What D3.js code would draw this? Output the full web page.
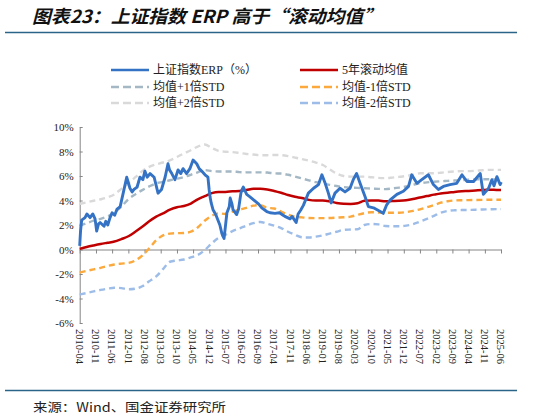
<!DOCTYPE html>
<html>
<head>
<meta charset="utf-8">
<script src="https://cdn.jsdelivr.net/npm/d3@7"></script>
<style>
  body { margin: 0; background: #fff; }
  svg { display: block; }
</style>
</head>
<body>
<svg id="chart" width="559" height="420"></svg>
<script>
// ERP of the Shanghai Composite (%)
const erpDates = [
  "2010-04-01","2010-04-12","2010-04-27","2010-06-10","2010-07-05","2010-08-15","2010-09-20","2010-10-20",
  "2010-11-10","2010-12-05","2010-12-25","2011-02-15","2011-03-10","2011-04-05","2011-05-05","2011-06-01",
  "2011-07-05","2011-08-05","2011-09-15","2011-10-25","2011-12-10","2012-01-22","2012-02-20","2012-03-15",
  "2012-04-25","2012-06-01","2012-07-10","2012-08-05","2012-09-05","2012-10-12","2012-12-05","2013-01-25",
  "2013-03-12","2013-04-28","2013-06-05","2013-06-25","2013-07-25","2013-09-05","2013-10-15","2013-11-20",
  "2013-12-20","2014-02-05","2014-03-20","2014-05-01","2014-06-18","2014-07-20","2014-08-22","2014-10-05",
  "2014-11-12","2014-11-28","2014-12-10","2014-12-25","2015-01-18","2015-02-10","2015-03-05","2015-04-18",
  "2015-05-15","2015-06-12","2015-06-25","2015-07-20","2015-08-20","2015-09-01","2015-09-25","2015-10-08",
  "2015-11-25","2015-12-20","2016-01-20","2016-02-05","2016-02-20","2016-04-05","2016-05-18","2016-07-25",
  "2016-09-10","2016-10-20","2016-12-25","2017-02-05","2017-04-12","2017-06-10","2017-07-28","2017-08-20",
  "2017-10-28","2017-11-22","2018-01-15","2018-02-10","2018-03-15","2018-04-20","2018-06-25","2018-09-01",
  "2018-11-05","2018-12-20","2019-02-01","2019-03-15","2019-04-20","2019-06-10","2019-08-15","2019-10-20",
  "2019-12-25","2020-02-05","2020-03-20","2020-05-05","2020-07-10","2020-08-22","2020-10-28","2021-01-25",
  "2021-03-05","2021-04-20","2021-06-05","2021-09-01","2021-11-25","2022-02-01","2022-03-15","2022-05-22",
  "2022-07-25","2022-10-20","2022-12-25","2023-03-01","2023-05-05","2023-08-01","2023-10-28","2024-01-05",
  "2024-03-10","2024-06-05","2024-09-01","2024-10-12","2024-12-20","2025-02-01","2025-03-01","2025-04-08",
  "2025-05-20","2025-06-05"
];
const erpValues = [
  0.3, 1.5, 2.4, 2.6, 2.9, 2.6, 2.9, 2.5,
  1.5, 2.1, 2.2, 1.9, 2.3, 2.0, 2.6, 3.0,
  2.8, 3.3, 3.5, 4.6, 5.9, 5.0, 4.7, 4.9,
  5.1, 5.9, 5.7, 6.4, 5.9, 6.2, 5.9, 4.6,
  4.9, 5.9, 7.0, 6.5, 6.2, 5.7, 6.5, 6.2,
  6.6, 6.2, 6.6, 7.3, 7.0, 6.6, 6.4, 6.1,
  5.9, 4.9, 4.3, 3.8, 3.25, 3.0, 2.7, 2.0,
  1.3, 0.9, 1.6, 3.0, 3.5, 4.2, 3.7, 3.25,
  2.85, 3.3, 4.6, 4.9, 5.1, 4.5, 4.3, 3.95,
  3.7, 3.4, 3.1, 3.0, 2.95, 3.0, 2.8, 2.7,
  2.5, 2.7, 2.2, 2.9, 3.2, 3.6, 4.6, 5.0,
  5.3, 6.1, 5.4, 4.6, 3.8, 4.6, 5.0, 4.7,
  5.0, 5.7, 6.2, 5.4, 4.3, 3.5, 3.4, 3.1,
  2.95, 3.65, 4.05, 4.5, 4.75, 5.15, 6.1, 5.4,
  5.7, 6.1, 5.3, 4.9, 5.15, 5.3, 5.4, 6.1,
  5.55, 5.55, 6.2, 4.5, 5.0, 5.7, 5.2, 5.95,
  5.3, 5.5
];

// rolling mean and std bands, quarterly readings
const bandDates = [
  "2010-04","2010-07","2010-10","2011-01","2011-04","2011-07","2011-10","2012-01","2012-04","2012-07","2012-10",
  "2013-01","2013-04","2013-07","2013-10","2014-01","2014-04","2014-07","2014-10","2015-01","2015-04","2015-07",
  "2015-10","2016-01","2016-04","2016-07","2016-10","2017-01","2017-04","2017-07","2017-10","2018-01","2018-04",
  "2018-07","2018-10","2019-01","2019-04","2019-07","2019-10","2020-01","2020-04","2020-07","2020-10","2021-01",
  "2021-04","2021-07","2021-10","2022-01","2022-04","2022-07","2022-10","2023-01","2023-04","2023-07","2023-10",
  "2024-01","2024-04","2024-07","2024-10","2025-01","2025-04","2025-06"
];
const meanValues = [
  0.05, 0.2, 0.33, 0.45, 0.55, 0.65, 0.85, 1.08, 1.45, 1.85, 2.3,
  2.68, 2.95, 3.25, 3.45, 3.55, 3.75, 4.1, 4.35, 4.6, 4.7, 4.7,
  4.75, 4.78, 4.85, 4.95, 4.95, 4.9, 4.78, 4.63, 4.45, 4.3, 4.2,
  4.05, 4.0, 4.0, 3.93, 3.8, 3.73, 3.72, 3.78, 3.98, 4.0, 4.0,
  3.93, 3.95, 3.97, 4.02, 4.12, 4.25, 4.36, 4.48, 4.58, 4.63, 4.7,
  4.75, 4.78, 4.82, 4.86, 4.88, 4.86, 4.85
];
const plus1Values = [
  1.95, 2.15, 2.35, 2.5, 2.7, 3.0, 3.5, 4.1, 4.5, 4.85, 5.15,
  5.4, 5.52, 5.65, 5.78, 5.92, 6.1, 6.3, 6.48, 6.4, 6.37, 6.37,
  6.37, 6.32, 6.3, 6.3, 6.3, 6.28, 6.22, 6.2, 6.1, 5.95, 5.8,
  5.65, 5.5, 5.4, 5.28, 5.18, 5.1, 5.05, 5.03, 5.0, 4.98, 4.95,
  4.93, 4.98, 5.05, 5.15, 5.28, 5.4, 5.48, 5.53, 5.57, 5.6, 5.63,
  5.66, 5.7, 5.72, 5.74, 5.74, 5.72, 5.7
];
const plus2Values = [
  3.72, 3.85, 3.98, 4.1, 4.25, 4.5, 4.95, 5.4, 5.9, 6.4, 6.75,
  6.95, 7.1, 7.28, 7.55, 7.85, 8.1, 8.4, 8.57, 8.3, 8.05, 7.98,
  7.95, 7.88, 7.8, 7.75, 7.7, 7.7, 7.72, 7.7, 7.62, 7.5, 7.38,
  7.25, 7.1, 6.9, 6.55, 6.2, 6.0, 5.95, 5.95, 5.95, 5.9, 5.85,
  5.83, 5.87, 5.93, 6.0, 6.1, 6.22, 6.23, 6.23, 6.27, 6.33, 6.37,
  6.4, 6.4, 6.43, 6.47, 6.5, 6.5, 6.5
];
const minus1Values = [
  -1.88, -1.75, -1.62, -1.5, -1.35, -1.22, -1.15, -1.1, -0.9, -0.5, 0.1,
  0.75, 1.15, 1.3, 1.33, 1.35, 1.45, 1.8, 2.35, 2.75, 2.95, 2.9,
  3.1, 3.25, 3.4, 3.58, 3.62, 3.4, 3.35, 3.1, 2.85, 2.68, 2.62,
  2.57, 2.56, 2.56, 2.57, 2.6, 2.63, 2.68, 2.83, 2.97, 3.04, 3.02,
  3.0, 3.0, 3.0, 3.05, 3.15, 3.28, 3.45, 3.62, 3.82, 3.94, 4.0,
  4.02, 4.03, 4.04, 4.05, 4.06, 4.06, 4.06
];
const minus2Values = [
  -3.68, -3.55, -3.42, -3.3, -3.2, -3.12, -3.15, -3.25, -3.2, -3.0, -2.6,
  -2.2, -1.6, -1.0, -0.9, -0.82, -0.65, -0.45, -0.05, 0.5, 0.95, 1.2,
  1.5, 1.72, 1.95, 2.15, 2.25, 2.1, 1.95, 1.75, 1.45, 1.2, 1.0,
  0.98, 1.05, 1.15, 1.3, 1.45, 1.6, 1.63, 1.65, 2.0, 2.08, 2.05,
  1.92, 1.9, 1.9, 1.95, 2.07, 2.28, 2.5, 2.75, 3.0, 3.15, 3.2,
  3.22, 3.23, 3.25, 3.27, 3.28, 3.3, 3.3
];

const tickLabels = [
  "2010-04","2010-11","2011-06","2012-01","2012-08","2013-03","2013-10","2014-05","2014-12",
  "2015-07","2016-02","2016-09","2017-04","2017-11","2018-06","2019-01","2019-08","2020-03",
  "2020-10","2021-05","2021-12","2022-07","2023-02","2023-09","2024-04","2024-11","2025-06"
];
const yTicks = [-6, -4, -2, 0, 2, 4, 6, 8, 10];

const seriesNames = ["上证指数ERP（%）", "5年滚动均值", "均值+1倍STD", "均值-1倍STD", "均值+2倍STD", "均值-2倍STD"];

const parseDay = d3.timeParse("%Y-%m-%d");
const parseMonth = d3.timeParse("%Y-%m");

const serifFont = "'Liberation Serif', 'Times New Roman', 'Noto Sans CJK SC', serif";
const cjkFont = "'Liberation Serif', 'Noto Sans CJK SC', serif";
const axisColor = "#868686";

const svg = d3.select("#chart");

// title + rules
svg.append("text")
    .attr("x", 32)
    .attr("y", 23)
    .attr("font-family", "'Noto Sans CJK SC', sans-serif")
    .attr("font-size", 18)
    .attr("font-weight", "bold")
    .attr("font-style", "italic")
    .attr("fill", "#111")
    .attr("textLength", 350)
    .attr("lengthAdjust", "spacingAndGlyphs")
    .text("图表23：上证指数 ERP 高于“滚动均值”");

svg.append("line")
    .attr("x1", 5).attr("x2", 517)
    .attr("y1", 32.5).attr("y2", 32.5)
    .attr("stroke", "#2a6489").attr("stroke-width", 1.6);

svg.append("line")
    .attr("x1", 5).attr("x2", 517)
    .attr("y1", 390.5).attr("y2", 390.5)
    .attr("stroke", "#2a6489").attr("stroke-width", 1.6);

svg.append("text")
    .attr("x", 33)
    .attr("y", 412)
    .attr("font-family", "'Noto Sans CJK SC', sans-serif")
    .attr("font-size", 12.5)
    .attr("fill", "#222")
    .attr("textLength", 193)
    .attr("lengthAdjust", "spacingAndGlyphs")
    .text("来源：Wind、国金证券研究所");

// scales
const x = d3.scaleTime()
    .domain([parseMonth("2010-04"), parseMonth("2025-06")])
    .range([79.7, 501]);
const y = d3.scaleLinear()
    .domain([-6, 10])
    .range([323, 127]);

// y axis, ticks pointing inward
const yAxis = svg.append("g")
    .attr("transform", "translate(79.7,0)")
    .call(d3.axisLeft(y).tickValues(yTicks).tickSizeInner(-3).tickSizeOuter(0).tickPadding(6)
        .tickFormat(d => d + "%"));
yAxis.select(".domain").attr("stroke", axisColor);
yAxis.selectAll(".tick line").attr("stroke", axisColor);
yAxis.selectAll("text")
    .attr("font-family", serifFont)
    .attr("font-size", 11)
    .attr("fill", "#222");

// x axis on the zero line
const tickDates = tickLabels.map(parseMonth);
const xAxis = svg.append("g")
    .attr("transform", "translate(0," + y(0) + ")")
    .call(d3.axisBottom(x).tickValues(tickDates).tickSize(4).tickSizeOuter(0).tickFormat(""));
xAxis.select(".domain").attr("stroke", axisColor);
xAxis.selectAll(".tick line").attr("stroke", axisColor);

// rotated date labels below the plot
svg.append("g")
    .selectAll("text")
    .data(tickDates)
    .enter()
    .append("text")
    .attr("transform", d => "translate(" + x(d) + ",329)rotate(90)")
    .attr("dy", "0.35em")
    .attr("font-family", serifFont)
    .attr("font-size", 10.5)
    .attr("fill", "#222")
    .text((d, i) => tickLabels[i]);

// lines
const bandX = bandDates.map(parseMonth);
const bandLine = d3.line()
    .x(d => x(d[0]))
    .y(d => y(d[1]))
    .curve(d3.curveMonotoneX);

const bands = [
  {values: plus2Values, color: "#d9d9d9", dash: "6,4"},
  {values: minus2Values, color: "#9dbde8", dash: "6,4"},
  {values: plus1Values, color: "#a4b7c4", dash: "6,4"},
  {values: minus1Values, color: "#fba93c", dash: "6,4"}
];

bands.forEach(function(b) {
  svg.append("path")
      .datum(bandX.map((d, i) => [d, b.values[i]]))
      .attr("d", bandLine)
      .attr("fill", "none")
      .attr("stroke", b.color)
      .attr("stroke-width", 2.4)
      .attr("stroke-dasharray", b.dash);
});

svg.append("path")
    .datum(bandX.map((d, i) => [d, meanValues[i]]))
    .attr("d", bandLine)
    .attr("fill", "none")
    .attr("stroke", "#c00000")
    .attr("stroke-width", 2.5);

const erpLine = d3.line()
    .x(d => x(d[0]))
    .y(d => y(d[1]));

svg.append("path")
    .datum(erpDates.map((d, i) => [parseDay(d), erpValues[i]]))
    .attr("d", erpLine)
    .attr("fill", "none")
    .attr("stroke", "#3372c4")
    .attr("stroke-width", 2.9)
    .attr("stroke-linejoin", "round");

// legend
const legendItems = [
  {name: seriesNames[0], color: "#3372c4", dash: null, lx: 111, ly: 70},
  {name: seriesNames[1], color: "#c00000", dash: null, lx: 300, ly: 70},
  {name: seriesNames[2], color: "#a4b7c4", dash: "8,4", lx: 111, ly: 87},
  {name: seriesNames[3], color: "#fba93c", dash: "8,4", lx: 300, ly: 87},
  {name: seriesNames[4], color: "#d9d9d9", dash: "8,4", lx: 111, ly: 103},
  {name: seriesNames[5], color: "#9dbde8", dash: "8,4", lx: 300, ly: 103}
];

const legend = svg.append("g");
legendItems.forEach(function(it) {
  legend.append("line")
      .attr("x1", it.lx).attr("x2", it.lx + 38)
      .attr("y1", it.ly).attr("y2", it.ly)
      .attr("stroke", it.color)
      .attr("stroke-width", 2.6)
      .attr("stroke-dasharray", it.dash);
  legend.append("text")
      .attr("x", it.lx + 42)
      .attr("y", it.ly)
      .attr("dy", "0.35em")
      .attr("font-family", cjkFont)
      .attr("font-size", 12)
      .attr("fill", "#222")
      .text(it.name);
});
</script>
</body>
</html>
